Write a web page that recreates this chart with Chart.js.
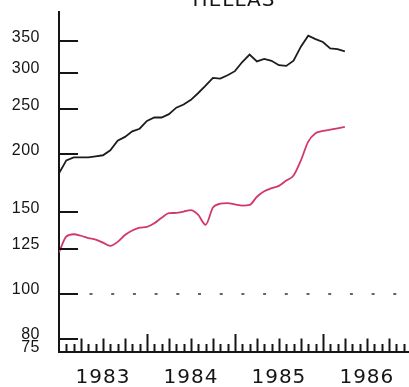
<!DOCTYPE html>
<html><head><meta charset="utf-8">
<script src="https://cdn.jsdelivr.net/npm/chart.js@4.4.1/dist/chart.umd.min.js"></script>
<style>html,body{margin:0;padding:0;background:#fff;}#wrap{width:409px;height:387px;}</style>
</head><body><div id="wrap"><canvas id="c" width="409" height="387"></canvas></div>
<script>
const chartTitle = 'HELLAS';
// month index, 0 = Jan 1983
const monthIndex = [0,1,2,3,4,5,6,7,8,9,10,11,12,13,14,15,16,17,18,19,20,21,22,23,24,25,26,27,28,29,30,31,32,33,34,35,36,37,38,39];
const blackSeries = [182,194,197,197,197,198,199,204,214,218,224,227,236,240,240,244,252,256,262,271,281,292,291,296,302,316,328,317,321,318,311,310,318,341,360,354,349,338,337,333];
const redSeries = [123,133,134.5,133.5,132,131,129,127,129.5,134,137,139,139.5,142,146,149.3,149.5,150.5,151.6,148,141,153.5,156.5,157,156,155,155.5,162,166.5,169,171,175.5,180,194,213,222,224.5,226,227.5,229];
const yearLabels = ['1983','1984','1985','1986'];
const yearLabelMonths = [6,18,30,42];
const yTickValues = [75,80,100,125,150,200,250,300,350];
const yTickMarks = [80,100,125,150,200,250,300,350];
const referenceLevel = 100;
const xMin = 0, xMax = 47.75, yMin = 75, yMax = 405;

const toPoints = (vals) => vals.map((v, i) => ({x: monthIndex[i], y: v}));

const INK = '#151515';

const decorPlugin = {
  id: 'decor',
  beforeDraw(chart) {
    const ctx = chart.ctx;
    ctx.fillStyle = '#fff';
    ctx.fillRect(0, 0, chart.width, chart.height);
    ctx.letterSpacing = '0.5px';
  },
  beforeDatasetsDraw(chart) {
    chart.ctx.letterSpacing = '1px';
  },
  afterDraw(chart) {
    const ctx = chart.ctx;
    const xs = chart.scales.x, ys = chart.scales.y;
    const ca = chart.chartArea;
    ctx.save();
    ctx.strokeStyle = INK;
    ctx.lineWidth = 2;
    ctx.lineCap = 'butt';
    yTickMarks.forEach(v => {
      const y = Math.round(ys.getPixelForValue(v));
      ctx.beginPath();
      ctx.moveTo(ca.left, y);
      ctx.lineTo(ca.left + 19, y);
      ctx.stroke();
    });
    for (let m = Math.ceil(xMin) + 1; m <= Math.floor(xMax); m++) {
      const x = Math.round(xs.getPixelForValue(m)) + 0.5;
      const h = (m % 12 === 0) ? 18 : (m % 3 === 0 ? 13.5 : 8);
      ctx.beginPath();
      ctx.moveTo(x, ca.bottom);
      ctx.lineTo(x, ca.bottom - h);
      ctx.stroke();
    }
    const yr = Math.round(ys.getPixelForValue(referenceLevel));
    ctx.lineWidth = 1.5;
    ctx.strokeStyle = '#333';
    ctx.setLineDash([3, 18.7]);
    ctx.beginPath();
    ctx.moveTo(ca.left + 30.5, yr);
    ctx.lineTo(ca.right, yr);
    ctx.stroke();
    ctx.setLineDash([]);
    ctx.font = '20px "DejaVu Sans"';
    ctx.fillStyle = INK;
    ctx.textAlign = 'center';
    ctx.textBaseline = 'alphabetic';
    ctx.letterSpacing = '1px';
    ctx.fillText(chartTitle, (ca.left + ca.right) / 2, ca.top - 6);
    ctx.restore();
  }
};

new Chart(document.getElementById('c'), {
  type: 'line',
  data: {
    datasets: [
      { data: toPoints(blackSeries), borderColor: '#1c1c1c', borderWidth: 1.8, pointRadius: 0, tension: 0, fill: false },
      { data: toPoints(redSeries), borderColor: '#d2386c', borderWidth: 1.8, pointRadius: 0, cubicInterpolationMode: 'monotone', fill: false }
    ]
  },
  options: {
    responsive: false,
    animation: false,
    devicePixelRatio: 1,
    layout: { padding: { top: 12, left: 0, right: 0, bottom: 0 } },
    plugins: { legend: { display: false }, tooltip: { enabled: false }, title: { display: false } },
    scales: {
      x: {
        type: 'linear', min: xMin, max: xMax,
        grid: { display: false, drawTicks: false },
        border: { display: true, color: INK, width: 2 },
        afterBuildTicks: (s) => { s.ticks = yearLabelMonths.map(v => ({value: v})); },
        afterFit: (s) => { s.height = 35; s.paddingLeft = 0; s.paddingRight = 0; },
        ticks: {
          z: 1, autoSkip: false, maxRotation: 0, padding: 14,
          color: INK, font: { family: '"DejaVu Sans"', size: 20 },
          callback: (v) => yearLabels[yearLabelMonths.indexOf(v)] || ''
        }
      },
      y: {
        type: 'logarithmic', min: yMin, max: yMax, bounds: 'data',
        grid: { display: false, drawTicks: false },
        border: { display: true, color: INK, width: 2 },
        afterBuildTicks: (s) => { s.ticks = yTickValues.map(v => ({value: v})); },
        afterFit: (s) => { s.width = 59; s.paddingTop = 0; s.paddingBottom = 0; },
        ticks: {
          z: -1, autoSkip: false, padding: 19, labelOffset: -4,
          color: INK, font: { family: '"Liberation Sans"', size: 16 },
          callback: (v) => String(v)
        }
      }
    }
  },
  plugins: [decorPlugin]
});
</script>
</body></html>
